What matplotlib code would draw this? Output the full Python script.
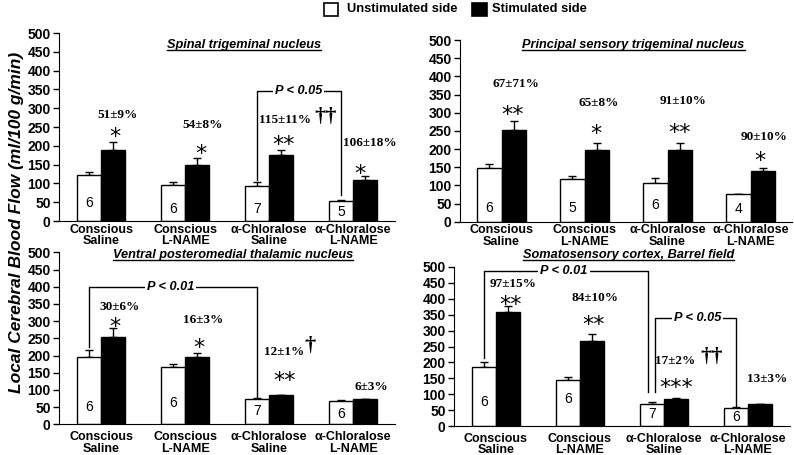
import numpy as np
import matplotlib
matplotlib.use("Agg")
import matplotlib.pyplot as plt
from matplotlib.lines import Line2D
from matplotlib.patches import Rectangle
from matplotlib.transforms import offset_copy

plt.rcParams["font.family"] = ["Liberation Sans", "DejaVu Sans"]

# ---- data (ml/100 g/min, mean and SE) ----
groups = ["Conscious\nSaline", "Conscious\nL-NAME", "α-Chloralose\nSaline", "α-Chloralose\nL-NAME"]

sp5_unstim = [123, 97, 94, 53]
sp5_unstim_se = [7, 7, 10, 3]
sp5_stim = [190, 149, 175, 109]
sp5_stim_se = [20, 18, 15, 10]
sp5_n = [6, 6, 7, 5]
sp5_pct = ["51±9%", "54±8%", "115±11%", "106±18%"]
sp5_stars = ["*", "*", "**", "*"]

pr5_unstim = [148, 117, 106, 76]
pr5_unstim_se = [10, 10, 13, 1]
pr5_stim = [252, 196, 197, 140]
pr5_stim_se = [25, 21, 20, 8]
pr5_n = [6, 5, 6, 4]
pr5_pct = ["67±71%", "65±8%", "91±10%", "90±10%"]
pr5_stars = ["**", "*", "**", "*"]

vpm_unstim = [197, 167, 74, 69]
vpm_unstim_se = [18, 7, 3, 3]
vpm_stim = [255, 195, 84, 73]
vpm_stim_se = [25, 11, 2, 2]
vpm_n = [6, 6, 7, 6]
vpm_pct = ["30±6%", "16±3%", "12±1%", "6±3%"]
vpm_stars = ["*", "*", "**", ""]

s1_unstim = [186, 146, 70, 58]
s1_unstim_se = [14, 9, 4, 2]
s1_stim = [357, 268, 84, 68]
s1_stim_se = [20, 22, 3, 2]
s1_n = [6, 6, 7, 6]
s1_pct = ["97±15%", "84±10%", "17±2%", "13±3%"]
s1_stars = ["**", "**", "***", ""]

W, H = 794, 455
fig = plt.figure(figsize=(W / 100, H / 100), dpi=100)
BAR_W = 0.29


def px_axes(left, right, y0, y500):
    # axes placed by pixel edges of the reference
    return fig.add_axes([left / W, 1 - y0 / H, (right - left) / W, (y0 - y500) / H])


def draw_panel(ax, unstim, unstim_se, stim, stim_se, n, n_y, pct, pct_xy, stars, star_xy,
               title, title_xy, label_pad):
    x = np.arange(len(groups))
    ax.bar(x - BAR_W / 2, unstim, BAR_W, color="white", edgecolor="black", lw=1, zorder=2)
    ax.bar(x + BAR_W / 2, stim, BAR_W, color="black", edgecolor="black", lw=1, zorder=2)
    zeros = np.zeros(len(groups))
    ax.errorbar(x - BAR_W / 2, unstim, yerr=[zeros, unstim_se], fmt="none", ecolor="black",
                elinewidth=1, capsize=3, capthick=1, zorder=1)
    ax.errorbar(x + BAR_W / 2, stim, yerr=[zeros, stim_se], fmt="none", ecolor="black",
                elinewidth=1, capsize=3, capthick=1, zorder=1)

    for xi, cnt, yy in zip(x, n, n_y):
        ax.text(xi - BAR_W / 2, yy, str(cnt), ha="center", va="center", fontsize=10, zorder=3)
    for lab, (px, py) in zip(pct, pct_xy):
        ax.text(px, py, lab, ha="center", va="center", fontsize=9.5, fontweight="bold",
                family="Liberation Serif", clip_on=False)
    # asterisk glyphs sit high in the line box, so shift them down a little
    star_tr = offset_copy(ax.transData, fig=fig, x=0, y=-7, units="dots")
    for st, pos in zip(stars, star_xy):
        if st and pos:
            ax.text(pos[0], pos[1], st, ha="center", va="center", fontsize=16,
                    family="DejaVu Sans", transform=star_tr, clip_on=False)

    t = ax.text(title_xy[0], title_xy[1], title, ha="center", va="center", fontsize=9.2,
                fontweight="bold", style="italic", clip_on=False)

    ax.set_xlim(-0.5, 3.5)
    ax.set_ylim(0, 500)
    ax.set_yticks(np.arange(0, 501, 50))
    ax.set_xticks(x)
    ax.set_xticklabels(groups, fontsize=9, fontweight="bold", linespacing=0.95)
    for lab in ax.get_yticklabels():
        lab.set_fontweight("bold")
    ax.tick_params(axis="y", direction="out", length=4, width=1, labelsize=10, pad=2)
    ax.tick_params(axis="x", length=0, pad=label_pad)
    ax.spines["top"].set_visible(False)
    ax.spines["right"].set_visible(False)
    return t


def bracket(ax, x1, y1, x2, y2, ytop, text, xtext):
    ax.plot([x1, x1, x2, x2], [y1, ytop, ytop, y2], color="black", lw=1, clip_on=False)
    ax.text(xtext, ytop, text, ha="center", va="center", fontsize=9.2, fontweight="bold",
            style="italic", clip_on=False,
            bbox=dict(facecolor="white", edgecolor="none", pad=1.5))


def dagger(ax, x, y, text):
    ax.text(x, y, text, ha="center", va="center", fontsize=16, fontweight="bold",
            family="Liberation Serif", clip_on=False)


ax1 = px_axes(59, 395, 221, 33)
ax2 = px_axes(460, 792, 221.7, 40)
ax3 = px_axes(59, 395, 424.3, 252.3)
ax4 = px_axes(454, 790, 426, 267)

titles = []
titles.append(draw_panel(
    ax1, sp5_unstim, sp5_unstim_se, sp5_stim, sp5_stim_se, sp5_n, [48, 32, 32, 24],
    sp5_pct, [(0.2, 282), (1.21, 255), (2.19, 269), (3.2, 207)],
    sp5_stars, [(0.17, 242), (1.19, 197), (2.17, 220), (3.08, 144)],
    "Spinal trigeminal nucleus", (1.7, 468), 2))
titles.append(draw_panel(
    ax2, pr5_unstim, pr5_unstim_se, pr5_stim, pr5_stim_se, pr5_n, [37, 37, 46, 34],
    pr5_pct, [(0.17, 378), (1.17, 327), (2.19, 331), (3.16, 232)],
    pr5_stars, [(0.13, 312), (1.14, 261), (2.15, 263), (3.11, 186)],
    "Principal sensory trigeminal nucleus", (1.59, 485), 2))
titles.append(draw_panel(
    ax3, vpm_unstim, vpm_unstim_se, vpm_stim, vpm_stim_se, vpm_n, [51, 61, 40, 30],
    vpm_pct, [(0.22, 342), (1.21, 303), (2.18, 211), (3.22, 109)],
    vpm_stars, [(0.17, 303), (1.17, 242), (2.18, 146), None],
    "Ventral posteromedial thalamic nucleus", (1.57, 492), 5))
titles.append(draw_panel(
    ax4, s1_unstim, s1_unstim_se, s1_stim, s1_stim_se, s1_n, [77, 85, 38, 29],
    s1_pct, [(0.2, 446), (1.18, 404), (2.13, 203), (3.23, 148)],
    s1_stars, [(0.17, 404), (1.16, 339), (2.15, 140), None],
    "Somatosensory cortex, Barrel field", (1.58, 539), 5))

# significance brackets and daggers
bracket(ax1, 1.855, 110, 2.855, 69, 346, "P < 0.05", 2.35)
dagger(ax1, 2.67, 277, "††")
bracket(ax3, -0.145, 225, 1.855, 80, 400, "P < 0.01", 0.83)
dagger(ax3, 2.49, 228, "†")
bracket(ax4, -0.145, 214, 1.81, 108, 486, "P < 0.01", 0.81)
bracket(ax4, 1.89, 108, 2.855, 63, 339, "P < 0.05", 2.4)
dagger(ax4, 2.57, 218, "††")

# shared y label
fig.text(17 / W, 1 - 222 / H, "Local Cerebral Blood Flow (ml/100 g/min)", rotation=90,
         ha="center", va="center", fontsize=12.5, fontweight="bold", style="italic")

# legend
fig.add_artist(Rectangle((324 / W, 1 - 16 / H), 14 / W, 13 / H, facecolor="white",
                         edgecolor="black", lw=1.2, transform=fig.transFigure))
fig.text(347 / W, 1 - 9.5 / H, "Unstimulated side", ha="left", va="center",
         fontsize=9.3, fontweight="bold")
fig.add_artist(Rectangle((472 / W, 1 - 16 / H), 15 / W, 13 / H, facecolor="black",
                         edgecolor="black", lw=1.2, transform=fig.transFigure))
fig.text(492 / W, 1 - 9.5 / H, "Stimulated side", ha="left", va="center",
         fontsize=9.3, fontweight="bold")

# underline the panel titles
fig.canvas.draw()
inv = fig.transFigure.inverted()
for t in titles:
    bb = t.get_window_extent()
    (xa, ya), (xb, _) = inv.transform([(bb.x0, bb.y0 + 1), (bb.x1, bb.y0 + 1)])
    fig.add_artist(Line2D([xa, xb], [ya, ya], color="black", lw=1, transform=fig.transFigure))

fig.savefig("out.png", dpi=100)
